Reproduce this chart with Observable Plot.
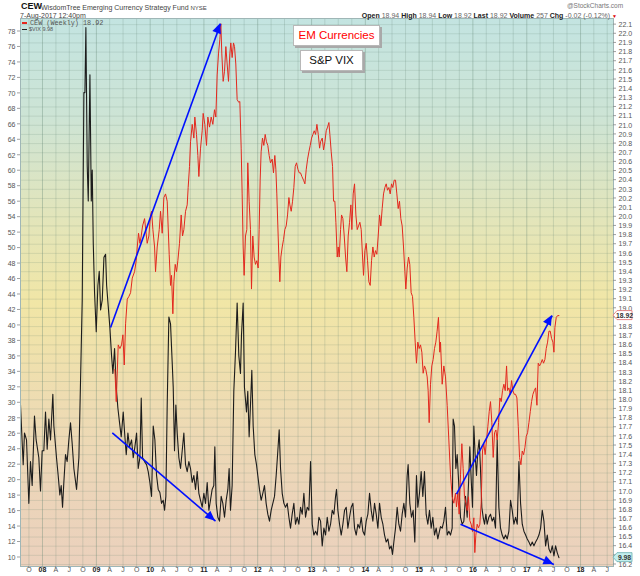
<!DOCTYPE html>
<html><head><meta charset="utf-8">
<script src="https://cdn.jsdelivr.net/npm/d3@7"></script>
<script src="https://cdn.jsdelivr.net/npm/@observablehq/plot@0.6"></script>
<style>
body{margin:0;background:#fff;font-family:"Liberation Sans",Arial,sans-serif;}
#wrap{position:relative;width:640px;height:576px;overflow:hidden;background:#fff;}
#chart{position:absolute;left:0;top:0;}
.h{position:absolute;white-space:nowrap;line-height:1;}
.box{position:absolute;background:#fff;border:1px solid #b8b8b8;box-shadow:2px 2px 0 #a9a9a9;font-size:11.5px;text-align:center;line-height:19px;}
.lab{font-weight:bold;color:#222;}
.val{color:#666;}
</style></head>
<body><div id="wrap">
<div id="chart"></div>
<div class="h" style="left:21px;top:2px;font-size:9px;font-weight:bold;color:#111;">CEW</div>
<div class="h" style="left:41px;top:3.5px;font-size:7px;color:#444;">WisdomTree Emerging Currency Strategy Fund <span style="font-size:6px">NYSE</span></div>
<div class="h" style="left:20px;top:12px;font-size:7px;color:#444;">7-Aug-2017 12:40pm</div>
<div class="h" style="left:567px;top:2.5px;font-size:6.5px;color:#777;">@StockCharts.com</div>
<div class="h" style="right:23px;top:12px;font-size:7px;"><span class="lab">Open</span> <span class="val">18.94</span> <span class="lab">High</span> <span class="val">18.94</span> <span class="lab">Low</span> <span class="val">18.92</span> <span class="lab">Last</span> <span class="val">18.92</span> <span class="lab">Volume</span> <span class="val">257</span> <span class="lab">Chg</span> <span class="val">-0.02 (-0.12%)</span> <span style="color:#d00;font-size:5px">&#9660;</span></div>
<div class="h" style="left:22px;top:20px;font-size:6.8px;font-family:'Liberation Mono','DejaVu Sans Mono',monospace;color:#555;"><span style="display:inline-block;width:5px;height:1.5px;background:#e5281e;vertical-align:middle;margin-right:3px"></span>CEW (Weekly) 18.92</div>
<div class="h" style="left:22px;top:27px;font-size:5.5px;color:#555;"><span style="display:inline-block;width:5px;height:1.5px;background:#222;vertical-align:middle;margin-right:2px"></span>$VIX 9.98</div>
<div class="box" style="left:293px;top:25px;width:85px;height:19px;color:#f00;">EM Currencies</div>
<div class="box" style="left:300px;top:50px;width:61px;height:19px;color:#111;">S&amp;P VIX</div>
</div>
<script>
// ---- data (decimal years) ----
const vixYears = [
2007.591,2007.641,2007.665,2007.703,2007.746,2007.777,2007.808,2007.851,2007.882,2007.932,2007.963,2007.994,
2008.025,2008.056,2008.087,2008.118,2008.149,2008.192,2008.211,2008.260,2008.291,2008.322,2008.347,2008.372,2008.396,2008.427,2008.458,2008.489,2008.520,2008.551,2008.582,2008.632,2008.675,2008.706,2008.737,2008.768,2008.787,2008.805,2008.830,2008.849,2008.880,2008.905,2008.923,2008.942,2008.966,2008.997,
2009.028,2009.053,2009.078,2009.109,2009.140,2009.171,2009.190,2009.221,2009.251,2009.282,2009.307,2009.338,2009.369,2009.400,2009.431,2009.462,2009.499,2009.530,2009.555,2009.586,2009.617,2009.654,2009.685,2009.716,2009.747,2009.778,2009.809,2009.834,2009.859,2009.896,2009.933,2009.964,2009.995,
2010.026,2010.057,2010.088,2010.119,2010.150,2010.181,2010.212,2010.243,2010.268,2010.292,2010.317,2010.348,
2010.379,2010.410,2010.429,2010.453,2010.478,2010.503,2010.534,2010.565,2010.596,2010.627,2010.658,2010.689,2010.720,2010.751,2010.782,2010.813,2010.844,2010.875,2010.906,2010.937,2010.968,2010.999,
2011.030,2011.061,2011.092,2011.122,2011.153,2011.184,2011.203,2011.228,2011.259,2011.290,2011.321,2011.352,2011.383,2011.414,2011.445,2011.469,2011.494,2011.525,2011.556,2011.587,2011.618,2011.649,2011.680,2011.699,2011.730,2011.754,2011.792,2011.816,2011.841,2011.866,2011.891,2011.916,2011.947,2011.978,
2012.002,2012.033,2012.064,2012.095,2012.126,2012.157,2012.188,2012.219,2012.250,2012.281,2012.312,2012.343,2012.374,2012.399,2012.424,2012.455,2012.486,2012.517,2012.548,2012.579,2012.609,2012.640,2012.671,2012.702,2012.733,2012.764,2012.795,2012.826,2012.857,2012.888,2012.919,2012.950,2012.981,
2013.012,2013.043,2013.074,2013.105,2013.136,
2013.167,2013.198,2013.229,2013.260,2013.291,2013.322,2013.353,2013.384,2013.415,2013.446,2013.464,2013.489,2013.520,2013.551,2013.582,2013.613,2013.644,2013.675,2013.706,2013.737,2013.768,2013.799,2013.830,2013.861,2013.892,2013.923,2013.954,2013.985,
2014.016,2014.047,2014.078,2014.109,2014.140,2014.171,2014.202,2014.233,2014.264,2014.295,2014.326,2014.357,2014.388,2014.419,2014.450,2014.480,2014.505,2014.530,2014.561,2014.592,2014.623,2014.654,2014.685,2014.716,2014.747,2014.778,2014.796,2014.827,2014.858,2014.889,2014.920,2014.951,2014.976,
2015.007,2015.038,2015.069,2015.100,2015.131,2015.162,2015.193,2015.224,2015.255,2015.286,2015.317,2015.348,2015.379,
2015.398,2015.429,2015.460,2015.491,2015.522,2015.553,2015.584,2015.615,2015.633,2015.658,2015.683,2015.708,2015.739,2015.770,2015.801,2015.832,2015.863,2015.894,2015.925,2015.943,2015.968,2015.993,
2016.018,2016.042,2016.067,2016.092,2016.117,2016.141,2016.166,2016.191,2016.216,2016.241,2016.265,2016.296,2016.327,2016.358,2016.389,2016.420,2016.451,2016.482,2016.513,2016.544,2016.575,2016.606,2016.637,2016.668,2016.699,2016.730,2016.761,2016.792,2016.823,2016.854,2016.885,2016.916,2016.947,2016.978,
2017.009,2017.040,2017.071,2017.102,2017.133,2017.164,2017.195,2017.226,2017.257,2017.288,2017.319,2017.350,2017.381,2017.412,2017.443,2017.474,2017.505,2017.536,2017.567,2017.598
];
const vixValues = [
29.7,22.0,26.1,25.2,17.0,22.4,19.3,28.3,25.2,22.9,18.6,23.8,
23.8,28.8,24.0,27.9,25.2,31.1,27.0,22.9,20.6,18.1,19.3,16.5,19.7,23.3,22.4,25.2,27.4,24.7,21.5,18.8,22.9,32.9,43.3,70.1,70.1,78.5,60.6,56.1,72.4,56.1,60.1,50.6,44.2,39.2,
45.2,47.0,42.0,43.3,48.8,49.2,45.2,42.4,39.7,36.1,33.8,37.0,32.0,29.3,27.4,25.6,28.8,25.6,23.3,26.1,24.3,25.2,22.9,24.3,26.1,21.5,22.9,30.6,22.9,22.4,22.0,21.1,19.7,
17.9,27.0,25.2,20.6,18.8,18.4,17.0,17.4,16.1,17.9,29.7,41.1,
40.2,35.2,32.0,23.8,29.7,26.1,22.9,21.5,23.8,26.1,22.0,21.1,22.4,21.5,19.7,20.6,18.8,21.1,18.3,17.4,16.5,18.3,
17.0,19.7,16.1,17.4,18.8,19.3,24.3,17.0,15.2,14.7,17.9,17.0,15.2,17.4,18.8,21.5,16.1,19.3,31.5,36.5,42.9,36.1,33.8,38.8,42.9,32.0,28.8,31.5,25.6,29.7,34.2,27.0,23.3,22.0,
20.6,18.8,17.4,18.3,19.3,17.0,15.6,14.7,16.1,17.0,17.9,20.6,23.8,26.5,21.5,18.3,17.0,16.5,17.0,15.2,13.8,15.6,17.0,14.3,15.2,14.3,16.5,15.6,18.3,15.2,16.5,16.1,22.4,
14.3,12.9,13.4,12.9,15.2,
14.7,11.5,13.8,12.9,15.2,13.4,14.3,16.1,15.6,17.9,18.8,16.1,14.3,12.9,14.3,16.1,16.5,13.8,15.2,16.5,17.0,13.8,12.9,14.3,13.8,15.2,13.4,12.9,
14.7,15.6,18.3,16.1,14.7,17.0,15.6,13.8,17.0,15.2,14.3,12.9,12.0,12.4,11.1,11.5,10.4,12.0,13.8,16.5,14.3,13.4,15.6,17.0,15.2,20.6,22.0,17.0,15.2,16.1,12.0,20.6,16.5,
18.3,21.1,17.9,21.1,15.6,14.3,16.1,13.8,15.2,12.9,13.8,12.4,13.4,
14.0,13.8,14.7,16.5,12.9,13.4,12.9,13.8,27.9,27.0,21.5,23.3,19.3,15.2,14.3,14.7,17.9,15.2,20.6,24.3,20.2,16.5,
27.0,23.3,20.6,23.8,25.2,21.5,16.5,15.2,14.3,15.6,14.3,15.2,15.6,14.7,15.2,13.8,25.2,16.5,13.8,12.9,12.4,12.9,12.4,13.4,17.4,16.1,14.3,15.2,14.3,22.4,17.0,14.3,13.4,12.9,
12.4,12.0,11.5,12.0,11.5,12.0,12.4,12.9,13.8,16.1,14.7,11.5,12.9,11.1,10.6,11.5,10.2,11.5,10.6,9.98
];
const cewYears = [
2009.344,2009.369,2009.406,2009.437,2009.468,2009.493,2009.518,2009.543,2009.574,2009.605,2009.636,2009.667,2009.710,2009.741,2009.760,2009.784,2009.809,2009.834,2009.859,2009.896,2009.945,2009.976,
2010.007,2010.026,2010.051,2010.082,2010.100,2010.131,2010.169,2010.193,2010.224,2010.255,2010.286,2010.317,2010.354,
2010.379,2010.398,2010.422,2010.441,2010.466,2010.491,2010.515,2010.546,2010.577,2010.602,2010.627,2010.658,2010.689,2010.707,2010.732,2010.751,2010.782,2010.813,2010.831,2010.862,2010.887,2010.906,2010.937,2010.968,2010.986,
2011.017,2011.048,2011.073,2011.104,2011.135,2011.166,2011.197,2011.222,2011.246,2011.271,2011.296,2011.315,2011.333,2011.358,2011.383,2011.408,2011.432,2011.457,2011.482,2011.500,2011.525,2011.550,2011.569,2011.593,2011.618,2011.649,2011.668,2011.693,2011.711,2011.730,2011.748,2011.773,2011.798,2011.816,2011.841,2011.866,2011.885,2011.909,2011.934,2011.959,2011.984,
2012.009,2012.027,2012.046,2012.064,2012.089,2012.114,2012.139,2012.163,2012.188,2012.213,2012.238,2012.269,2012.293,2012.318,2012.337,2012.355,2012.374,2012.393,2012.411,2012.430,2012.455,2012.479,2012.504,2012.529,2012.554,2012.579,2012.597,2012.622,2012.647,2012.671,2012.696,2012.721,2012.746,2012.771,2012.795,2012.820,2012.851,2012.876,2012.901,2012.926,2012.950,2012.975,
2013.000,2013.025,2013.049,2013.074,2013.099,2013.124,2013.149,
2013.167,2013.198,2013.223,2013.248,2013.272,2013.297,2013.322,2013.340,2013.365,2013.390,2013.409,2013.433,2013.452,2013.477,2013.495,2013.514,2013.539,2013.557,2013.582,2013.607,2013.632,2013.656,2013.681,2013.706,2013.731,2013.749,2013.774,2013.799,2013.824,2013.849,2013.873,2013.898,2013.923,2013.948,2013.966,2013.991,
2014.016,2014.041,2014.065,2014.090,2014.115,2014.140,2014.165,2014.189,2014.214,2014.239,2014.264,2014.288,2014.313,2014.338,2014.363,2014.388,2014.412,2014.437,2014.462,2014.487,2014.511,2014.536,2014.561,2014.586,2014.611,2014.635,2014.660,2014.685,2014.710,2014.735,2014.753,2014.778,2014.803,2014.827,2014.852,2014.877,2014.902,2014.927,2014.951,2014.976,
2015.001,2015.026,2015.051,2015.075,2015.100,2015.125,2015.150,2015.168,2015.187,2015.212,2015.236,2015.261,2015.286,2015.311,2015.335,2015.360,2015.385,
2015.398,2015.429,2015.460,2015.491,2015.522,2015.553,2015.584,2015.615,2015.646,2015.677,2015.695,2015.720,2015.745,2015.770,2015.795,2015.819,2015.844,2015.869,2015.894,2015.918,2015.943,2015.968,2015.993,
2016.018,2016.036,2016.055,2016.080,2016.104,2016.129,2016.154,2016.179,2016.203,2016.228,2016.253,2016.278,2016.303,2016.327,2016.352,2016.377,2016.402,2016.427,2016.451,2016.476,2016.501,2016.526,2016.550,2016.575,2016.600,2016.625,2016.643,2016.668,2016.693,2016.718,2016.742,2016.767,2016.792,2016.817,2016.842,2016.866,2016.891,2016.916,2016.941,2016.966,2016.990,
2017.015,2017.040,2017.065,2017.089,2017.114,2017.139,2017.164,2017.189,2017.213,2017.238,2017.263,2017.288,2017.312,2017.337,2017.362,2017.387,2017.412,2017.436,2017.461,2017.486,2017.505,2017.523,2017.548,2017.573,2017.598
];
const cewValues = [
18.33,17.98,18.60,18.56,18.60,18.71,18.38,18.83,19.10,19.13,19.17,19.33,19.40,19.52,19.67,19.82,19.71,19.79,19.90,19.98,19.71,19.79,
20.02,20.06,19.86,19.67,19.40,19.67,19.86,20.06,19.82,20.21,20.25,20.17,19.59,
19.25,19.36,18.94,19.29,19.48,19.40,19.52,19.71,20.02,19.79,19.86,20.06,20.13,20.32,20.55,20.82,21.01,20.86,21.09,20.90,20.67,20.44,20.75,20.94,21.13,
21.01,20.78,21.09,20.98,21.09,21.01,21.17,21.09,21.55,21.78,21.94,22.11,21.78,21.48,21.59,21.86,21.67,21.48,21.78,21.90,21.74,21.90,21.86,21.67,21.28,21.25,21.26,20.75,20.25,19.67,19.36,19.79,19.86,20.59,20.17,19.86,19.21,19.79,19.56,19.48,19.52,
19.44,19.86,20.40,20.71,20.86,20.78,20.90,20.82,20.78,20.67,20.59,20.63,20.48,20.67,20.52,20.25,19.90,19.56,19.29,19.56,19.67,19.75,19.86,19.90,20.02,20.21,20.13,20.06,20.17,20.32,20.55,20.59,20.52,20.48,20.48,20.44,20.40,20.36,20.52,20.63,20.71,20.78,
20.86,20.90,20.94,20.90,21.01,20.90,20.75,
20.82,20.86,20.73,20.82,20.94,20.98,21.03,20.90,20.71,20.55,20.17,20.17,19.94,19.56,19.67,19.56,19.86,20.02,19.98,19.79,19.56,19.40,19.79,19.94,20.13,19.86,20.25,20.36,20.02,19.86,19.90,19.94,19.86,19.56,19.36,19.63,
19.71,19.52,19.29,19.25,19.52,19.67,19.56,19.63,19.59,19.79,20.02,19.90,20.09,20.25,20.32,20.36,20.29,20.32,20.25,20.36,20.32,20.40,20.40,20.25,20.09,20.17,19.98,19.90,19.67,19.40,19.21,19.44,19.56,19.48,19.17,19.13,18.90,18.63,18.40,18.63,
18.56,18.60,18.52,18.29,18.37,18.33,18.25,18.10,17.75,18.17,18.37,18.44,18.56,18.63,18.75,18.90,18.52,
18.63,18.17,18.37,18.25,17.94,17.56,17.18,16.94,16.87,16.98,16.83,16.98,16.75,17.18,17.52,17.25,16.94,16.87,16.79,16.94,16.68,16.64,16.56,
16.71,16.33,16.52,16.64,16.60,16.64,16.87,17.44,17.52,17.40,17.56,17.71,17.87,17.98,17.75,17.37,17.64,17.67,17.56,17.75,18.02,17.98,18.10,18.17,18.10,18.37,18.10,18.13,18.06,18.21,18.10,18.06,18.06,18.02,17.71,17.37,17.29,17.44,17.40,17.48,17.60,
17.64,17.75,17.87,17.98,18.06,18.10,18.13,17.94,18.40,18.37,18.40,18.44,18.40,18.44,18.56,18.63,18.75,18.75,18.67,18.63,18.52,18.79,18.90,18.92,18.92
];
const leftTicks = [10,12,14,16,18,20,22,24,26,28,30,32,34,36,38,40,42,44,46,48,50,52,54,56,58,60,62,64,66,68,70,72,74,76,78];
const rightTicks = [16.2,16.3,16.4,16.5,16.6,16.7,16.8,16.9,17.0,17.1,17.2,17.3,17.4,17.5,17.6,17.7,17.8,17.9,18.0,18.1,18.2,18.3,18.4,18.5,18.6,18.7,18.8,18.9,19.0,19.1,19.2,19.3,19.4,19.5,19.6,19.7,19.8,19.9,20.0,20.1,20.2,20.3,20.4,20.5,20.6,20.7,20.8,20.9,21.0,21.1,21.2,21.3,21.4,21.5,21.6,21.7,21.8,21.9,22.0,22.1];
const monthLabels = {3: "A", 6: "J", 9: "O"};
const xDomainYears = [2007.591, 2018.613];
const vixDomain = [8.836, 79.68];
const cewDomain = [16.178, 22.167];
// annotation arrows: [decimal year, value on the series' own axis]
const cewArrows = [{from: [2009.264, 18.79], to: [2011.309, 22.11]}, {from: [2015.695, 16.97], to: [2017.474, 18.92]}];
const vixArrows = [{from: [2009.296, 26.1], to: [2011.216, 14.7]}, {from: [2015.770, 14.3], to: [2017.504, 9.1]}];
const lastCew = 18.92, lastVix = 9.98;

// ---- helpers ----
const dec = t => { const y = Math.floor(t); const a = Date.UTC(y, 0, 1), b = Date.UTC(y + 1, 0, 1); return new Date(a + (t - y) * (b - a)); };
const toV = c => vixDomain[0] + (c - cewDomain[0]) * (vixDomain[1] - vixDomain[0]) / (cewDomain[1] - cewDomain[0]);
const vix = vixYears.map((t, i) => ({date: dec(t), v: vixValues[i]}));
const cew = cewYears.map((t, i) => ({date: dec(t), v: toV(cewValues[i])}));
const arrows = [
  ...cewArrows.map(a => ({x1: dec(a.from[0]), y1: toV(a.from[1]), x2: dec(a.to[0]), y2: toV(a.to[1])})),
  ...vixArrows.map(a => ({x1: dec(a.from[0]), y1: a.from[1], x2: dec(a.to[0]), y2: a.to[1]}))
];
const qTicks = d3.utcMonth.range(new Date(Date.UTC(2007, 9, 1)), new Date(Date.UTC(2018, 7, 1)), 3);
const yearTicks = qTicks.filter(d => d.getUTCMonth() === 0);
const monthTicks = qTicks.filter(d => d.getUTCMonth() !== 0);
// right-axis labels hidden behind the last-value tags (as in the reference)
const rightLabels = rightTicks.filter(c => Math.abs(c - lastCew) > 0.06 && Math.abs(toV(c) - lastVix) > 0.7);

const ML = 20, MR = 27, MT = 18, MB = 10, W = 640, H = 576;
const gridColor = "#5f8070";

const plot = Plot.plot({
  width: W, height: H,
  marginLeft: ML, marginRight: MR, marginTop: MT, marginBottom: MB,
  style: {fontFamily: "'Liberation Sans', Arial, sans-serif", background: "transparent", overflow: "visible"},
  x: {type: "utc", domain: [dec(xDomainYears[0]), dec(xDomainYears[1])], axis: null},
  y: {domain: vixDomain, axis: null},
  marks: [
    Plot.ruleY(rightTicks, {y: d => toV(d), stroke: gridColor, strokeOpacity: 0.22, strokeWidth: 0.8}),
    Plot.ruleX(qTicks, {x: d => d, stroke: gridColor, strokeOpacity: d => d.getUTCMonth() === 0 ? 0.38 : 0.24, strokeWidth: 0.9}),
    Plot.line(vix, {x: "date", y: "v", stroke: "#1c1c1c", strokeWidth: 1.1}),
    Plot.line(cew, {x: "date", y: "v", stroke: "#e3281e", strokeWidth: 1}),
    Plot.link(arrows, {x1: "x1", y1: "y1", x2: "x2", y2: "y2", stroke: "#0010ff", strokeWidth: 1.6}),
    Plot.frame({stroke: "#9fb6b6", strokeWidth: 1}),
    Plot.text(leftTicks, {y: d => d, text: d => String(d), frameAnchor: "left", dx: -5, textAnchor: "end", fontSize: 7, fill: "#555"}),
    Plot.text(rightLabels, {y: d => toV(d), text: d => d.toFixed(1), frameAnchor: "right", dx: 5, textAnchor: "start", fontSize: 7, fill: "#555"}),
    Plot.text(monthTicks, {x: d => d, text: d => monthLabels[d.getUTCMonth()], frameAnchor: "bottom", dy: 5.5, fontSize: 7, fill: "#555"}),
    Plot.text(yearTicks, {x: d => d, text: d => String(d.getUTCFullYear() % 100).padStart(2, "0"), frameAnchor: "bottom", dy: 5.5, fontSize: 7, fontWeight: "bold", fill: "#222"})
  ]
});
document.getElementById("chart").appendChild(plot);

// ---- background gradient, ticks, arrowheads, last-value tags ----
const svg = d3.select(plot);
const defs = svg.insert("defs", ":first-child");
const grad = defs.append("linearGradient").attr("id", "bgGrad").attr("x1", 0).attr("y1", 0).attr("x2", 0).attr("y2", 1);
[[0, "#c3e4e1"], [0.18, "#cde4d5"], [0.36, "#e2e5bb"], [0.52, "#f1e6a6"], [0.7, "#eedcb2"], [0.86, "#ecd5b9"], [1, "#ebd1bd"]]
  .forEach(([o, c]) => grad.append("stop").attr("offset", o).attr("stop-color", c));
svg.insert("rect", "g").attr("x", ML).attr("y", MT).attr("width", W - ML - MR).attr("height", H - MT - MB).attr("fill", "url(#bgGrad)");

const xs = plot.scale("x"), ys = plot.scale("y");
const tg = svg.append("g").attr("stroke", "#888").attr("stroke-width", 0.8);
leftTicks.forEach(v => { const y = ys.apply(v); tg.append("line").attr("x1", ML - 3).attr("x2", ML).attr("y1", y).attr("y2", y); });
rightTicks.forEach(c => { const y = ys.apply(toV(c)); tg.append("line").attr("x1", W - MR).attr("x2", W - MR + 3).attr("y1", y).attr("y2", y); });
qTicks.forEach(d => { const x = xs.apply(d); tg.append("line").attr("x1", x).attr("x2", x).attr("y1", H - MB).attr("y2", H - MB + 2); });

const hg = svg.append("g").attr("fill", "#0010ff");
arrows.forEach(a => {
  const x1 = xs.apply(a.x1), y1 = ys.apply(a.y1), x2 = xs.apply(a.x2), y2 = ys.apply(a.y2);
  const L = Math.hypot(x2 - x1, y2 - y1), ux = (x2 - x1) / L, uy = (y2 - y1) / L;
  const hl = 10, hw = 4.5, bx = x2 - ux * hl, by = y2 - uy * hl;
  hg.append("polygon").attr("points", [[x2, y2], [bx - uy * hw, by + ux * hw], [bx + uy * hw, by - ux * hw]].map(p => p.join(",")).join(" "));
});

function tag(y, label, fill, stroke) {
  const x0 = W - MR;
  const g = svg.append("g");
  g.append("polygon").attr("points", [[x0, y], [x0 + 4, y - 4.5], [x0 + 19, y - 4.5], [x0 + 19, y + 4.5], [x0 + 4, y + 4.5]].map(p => p.join(",")).join(" "))
    .attr("fill", fill).attr("stroke", stroke).attr("stroke-width", 0.8);
  g.append("text").attr("x", x0 + 11.5).attr("y", y + 2.5).attr("text-anchor", "middle").attr("font-size", 6.8).attr("font-weight", "bold").attr("fill", "#333").text(label);
}
tag(ys.apply(toV(lastCew)), lastCew.toFixed(2), "#fff", "#e06a6a");
tag(ys.apply(lastVix), lastVix.toFixed(2), "#c4efee", "#6aaeb0");
</script>
</body></html>
